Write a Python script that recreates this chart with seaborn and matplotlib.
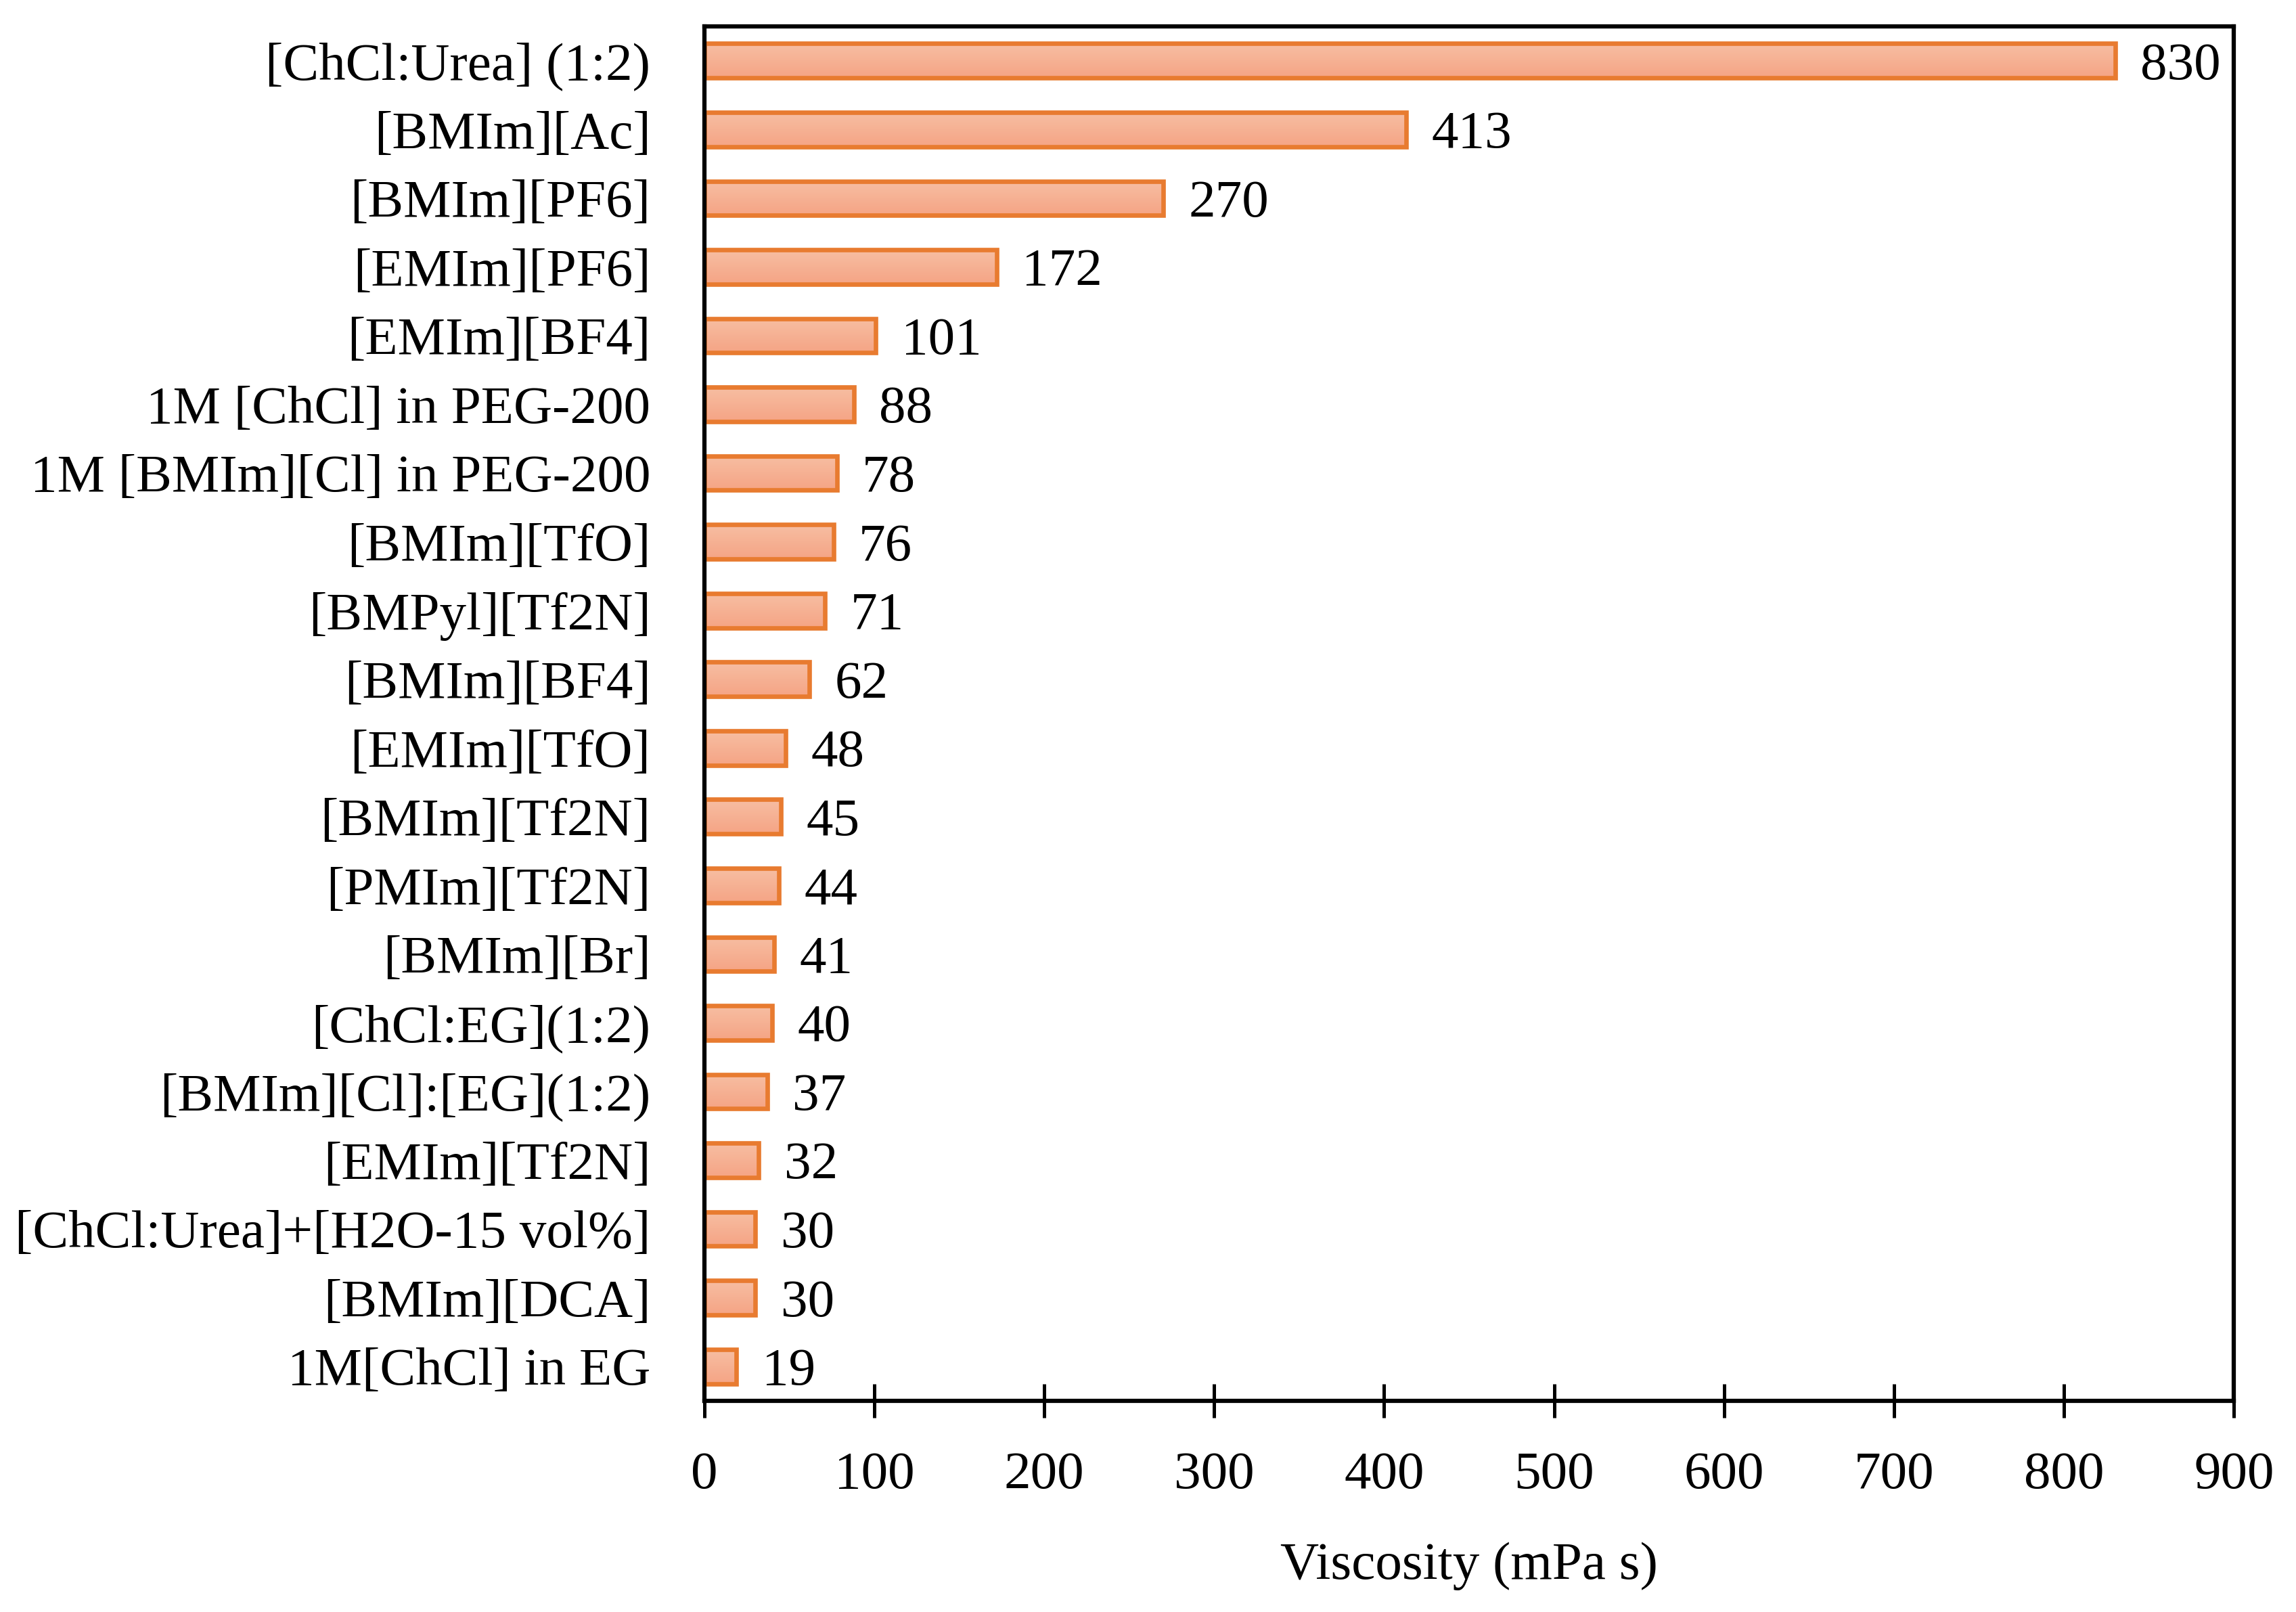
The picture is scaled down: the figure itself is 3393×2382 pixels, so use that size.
import numpy as np
import pandas as pd
import matplotlib as mpl
import matplotlib.pyplot as plt
import seaborn as sns

# data, top to bottom
liquids = ['[ChCl:Urea] (1:2)', '[BMIm][Ac]', '[BMIm][PF6]', '[EMIm][PF6]',
           '[EMIm][BF4]', '1M [ChCl] in PEG-200', '1M [BMIm][Cl] in PEG-200',
           '[BMIm][TfO]', '[BMPyl][Tf2N]', '[BMIm][BF4]', '[EMIm][TfO]',
           '[BMIm][Tf2N]', '[PMIm][Tf2N]', '[BMIm][Br]', '[ChCl:EG](1:2)',
           '[BMIm][Cl]:[EG](1:2)', '[EMIm][Tf2N]', '[ChCl:Urea]+[H2O-15 vol%]',
           '[BMIm][DCA]', '1M[ChCl] in EG']
viscosity = [830, 413, 270, 172, 101, 88, 78, 76, 71, 62, 48, 45, 44, 41, 40,
             37, 32, 30, 30, 19]
xticks = [0, 100, 200, 300, 400, 500, 600, 700, 800, 900]

df = pd.DataFrame({'liquid': liquids, 'viscosity': viscosity})

sns.set_style('white')
plt.rcParams['font.family'] = ['Liberation Serif', 'DejaVu Serif']
plt.rcParams['font.size'] = 19
plt.rcParams['text.color'] = 'black'
plt.rcParams['xtick.color'] = 'black'
plt.rcParams['ytick.color'] = 'black'
plt.rcParams['axes.labelcolor'] = 'black'

fig, ax = plt.subplots(figsize=(3393 / 300, 2382 / 300), dpi=300)
fig.subplots_adjust(left=0.3067, right=0.973, top=0.9836, bottom=0.131)

sns.barplot(data=df, x='viscosity', y='liquid', orient='h', ax=ax,
            width=0.5, color='#F6B095', edgecolor='#E87B30', linewidth=1.6)

# light-to-darker vertical gradient inside each bar
grad = np.linspace(0, 1, 64).reshape(-1, 1)
cmap = mpl.colors.LinearSegmentedColormap.from_list('g', ['#F7BEA2', '#F5A485'])
for p in ax.patches:
    x0, y0 = p.get_x(), p.get_y()
    w, h = p.get_width(), p.get_height()
    im = ax.imshow(grad, cmap=cmap, aspect='auto', zorder=p.get_zorder() + 0.1,
                   extent=(x0, x0 + w, y0 + h, y0), interpolation='bilinear')
    im.set_clip_path(p)
    p.set_facecolor('none')
    p.set_zorder(p.get_zorder() + 0.2)

for i, v in enumerate(viscosity):
    ax.text(v + 15, i + 0.08, str(v), va='center', ha='left', fontsize=19,
            color='black')

ax.set_xlim(0, 900)
ax.set_ylim(len(liquids) - 0.5, -0.5)
ax.set_xticks(xticks)
ax.set_xlabel('Viscosity (mPa s)', fontsize=19, labelpad=15)
ax.set_ylabel('')
ax.tick_params(axis='x', bottom=True, direction='inout', length=12, width=1.2,
               pad=12, labelsize=19, colors='black')
ax.tick_params(axis='y', left=False, length=0, pad=19, labelsize=19,
               colors='black')
for s in ax.spines.values():
    s.set_visible(True)
    s.set_color('black')
    s.set_linewidth(1.5)

fig.savefig('out.png', dpi=300)
